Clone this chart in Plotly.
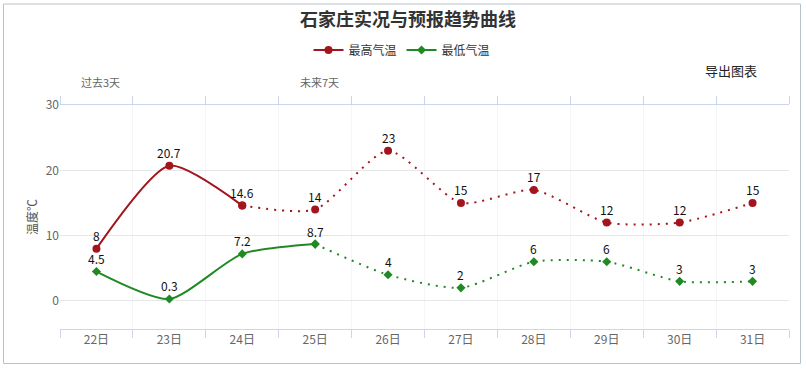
import plotly.graph_objects as go

days = ["22日", "23日", "24日", "25日", "26日", "27日", "28日", "29日", "30日", "31日"]
high = [8, 20.7, 14.6, 14, 23, 15, 17, 12, 12, 15]
low = [4.5, 0.3, 7.2, 8.7, 4, 2, 6, 6, 3, 3]
high_obs_n = 3   # observed points (solid) for max temp: 22-24
low_obs_n = 4    # observed points (solid) for min temp: 22-25

RED = "#a3151d"
GREEN = "#1f8a24"
FONT = "Noto Sans CJK SC"
SMOOTH = 0.65

W, H = 806, 369
L, R, T, B = 60, 17, 105, 40
pw, ph = W - L - R, H - T - B

def px_x(x):
    return (x - L) / pw

def px_y(y):
    return (H - B - y) / ph

fig = go.Figure()

# Max temp
fig.add_trace(go.Scatter(x=days[:high_obs_n], y=high[:high_obs_n], mode="lines+markers",
                         name="最高气温", legendgroup="h",
                         line=dict(color=RED, width=2, shape="spline", smoothing=SMOOTH),
                         marker=dict(color=RED, size=8, symbol="circle")))
fig.add_trace(go.Scatter(x=days[high_obs_n - 1:], y=high[high_obs_n - 1:], mode="lines+markers",
                         name="最高气温", legendgroup="h", showlegend=False,
                         line=dict(color=RED, width=2, shape="spline", smoothing=SMOOTH, dash="2px,6px"),
                         marker=dict(color=RED, size=8, symbol="circle")))
# Min temp
fig.add_trace(go.Scatter(x=days[:low_obs_n], y=low[:low_obs_n], mode="lines+markers",
                         name="最低气温", legendgroup="l",
                         line=dict(color=GREEN, width=2, shape="spline", smoothing=SMOOTH),
                         marker=dict(color=GREEN, size=7, symbol="diamond")))
fig.add_trace(go.Scatter(x=days[low_obs_n - 1:], y=low[low_obs_n - 1:], mode="lines+markers",
                         name="最低气温", legendgroup="l", showlegend=False,
                         line=dict(color=GREEN, width=2, shape="spline", smoothing=SMOOTH, dash="2px,6px"),
                         marker=dict(color=GREEN, size=7, symbol="diamond")))

annotations = []
# Data labels
for vals in (high, low):
    for d, v in zip(days, vals):
        annotations.append(dict(x=d, y=v, xref="x", yref="y", text=f"{v:g}", showarrow=False,
                                yshift=13, xanchor="center", yanchor="middle",
                                font=dict(family=FONT, size=12, color="#111")))

annotations += [
    dict(text="过去3天", xref="paper", yref="paper", x=px_x(100), y=px_y(82),
         xanchor="center", yanchor="middle",
         showarrow=False, font=dict(size=11, color="#666")),
    dict(text="未来7天", xref="paper", yref="paper", x=px_x(319), y=px_y(82),
         xanchor="center", yanchor="middle",
         showarrow=False, font=dict(size=11, color="#666")),
    dict(text="导出图表", xref="paper", yref="paper", x=px_x(731), y=px_y(70),
         xanchor="center", yanchor="middle",
         showarrow=False, font=dict(size=13, color="#222")),
]

fig.update_layout(
    width=W, height=H,
    margin=dict(l=L, r=R, t=T, b=B),
    paper_bgcolor="white", plot_bgcolor="white",
    font=dict(family=FONT, color="#333"),
    hovermode=False,
    title=dict(text="<b>石家庄实况与预报趋势曲线</b>", xref="container", x=408 / W, xanchor="center",
               yref="container", y=1 - 20 / H, yanchor="middle", font=dict(size=18, color="#333")),
    legend=dict(orientation="h", x=px_x(402), xanchor="center", y=px_y(50), yanchor="middle",
                font=dict(size=12, color="#333"), itemwidth=30, traceorder="normal",
                bgcolor="rgba(0,0,0,0)"),
    xaxis=dict(type="category", range=[-0.5, 9.5], tickson="boundaries", ticks="outside",
               ticklen=8, tickcolor="#ccd6eb", showline=True, linecolor="#ccd6eb",
               mirror="ticks", showgrid=True, gridcolor="#f5f5f5",
               tickfont=dict(size=12, color="#666"), fixedrange=True),
    yaxis=dict(range=[-4.3, 30], dtick=10, tick0=0, showgrid=True, gridcolor="#e6e6e6",
               zeroline=False, showline=False, ticks="",
               tickfont=dict(size=12, color="#666"),
               title=dict(text="温度℃", font=dict(size=12, color="#555"), standoff=5)),
    annotations=annotations,
    shapes=[
        dict(type="rect", xref="paper", yref="paper",
             x0=px_x(3.5), x1=px_x(800.5), y0=px_y(363.5), y1=px_y(4),
             line=dict(color="#b8c2cc", width=1), fillcolor="rgba(0,0,0,0)", layer="below"),
    ],
)

fig.write_html("out.html")
